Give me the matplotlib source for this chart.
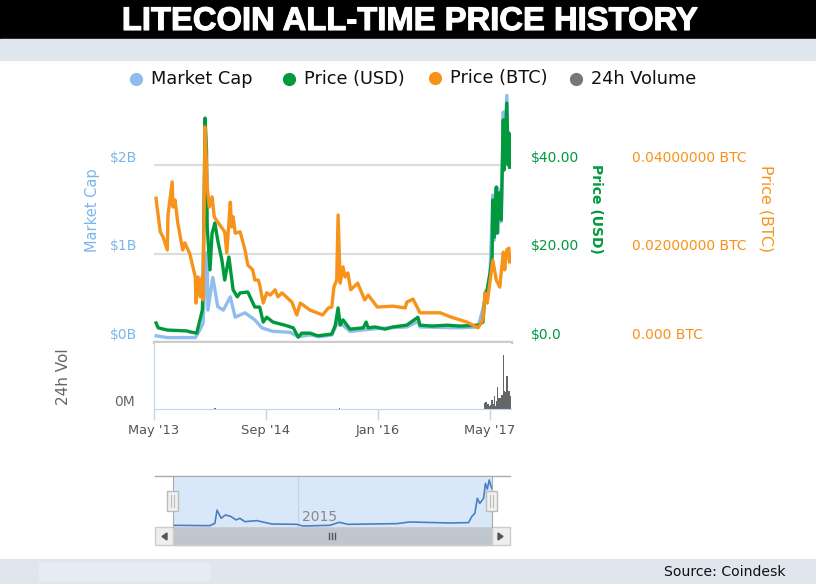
import matplotlib
matplotlib.use("Agg")
import matplotlib.pyplot as plt
import matplotlib.patheffects as pe
from matplotlib.patches import Rectangle, Polygon

W, H = 816, 584

# x values are months since May 2013
cap_months = [0.3, 1.9, 5.9, 6.3, 7.0, 7.3, 7.6, 7.7, 8.4, 8.7, 9.1, 9.9, 10.9, 11.6, 13.0, 14.4, 15.4, 17.0, 19.4,
              20.6, 22.3, 23.7, 25.4, 26.3, 27.0, 28.0, 31.6, 36.1, 37.7, 38.0, 43.7, 46.3, 47.3, 48.0, 48.4,
              48.6, 49.0, 49.1, 49.3, 49.6, 49.9, 50.0, 50.4, 50.6, 50.7, 50.8]
market_cap = [0.07, 0.05, 0.05, 0.10, 0.21, 0.73, 1.01, 0.36, 0.73, 0.59, 0.40, 0.36, 0.51, 0.28, 0.33, 0.25, 0.16, 0.12, 0.11,
              0.06, 0.08, 0.06, 0.08, 0.23, 0.19, 0.12, 0.15, 0.17, 0.23, 0.17, 0.16, 0.17, 0.47, 0.76, 1.66,
              1.15, 1.75, 1.23, 1.72, 1.36, 2.60, 1.94, 2.79, 2.00, 2.36, 1.98]

usd_months = [0.3, 0.6, 1.9, 4.7, 5.1, 6.1, 6.9, 7.0, 7.3, 7.5, 7.6, 8.0, 8.3, 8.7, 9.1, 9.7, 10.1, 10.7, 11.3, 11.9,
              12.3, 13.4, 14.4, 15.1, 15.6, 16.1, 17.0, 18.7, 19.9, 20.6, 21.1, 22.3, 23.4, 25.4, 25.9, 26.3, 26.6,
              27.0, 28.0, 29.9, 30.3, 30.6, 31.6, 33.0, 34.1, 36.1, 37.7, 38.0, 39.7, 41.9, 43.7, 46.3, 47.0, 47.3,
              47.6, 48.0, 48.3, 48.4, 48.6, 48.9, 49.0, 49.3, 49.6, 49.9, 50.0, 50.4, 50.6, 50.7, 50.8]
price_usd = [4.3, 3.2, 2.7, 2.5, 2.3, 2.0, 7.2, 11.1, 50.6, 43.4, 26.0, 16.3, 24.6, 26.9, 23.0, 18.5, 14.0, 19.2, 11.8, 10.2,
             11.1, 11.3, 7.9, 7.9, 4.5, 5.6, 4.5, 3.8, 3.2, 1.1, 2.0, 2.0, 1.4, 1.8, 3.8, 7.7, 3.8,
             5.0, 2.9, 3.2, 4.5, 3.2, 3.4, 2.9, 3.4, 3.8, 5.6, 3.8, 3.6, 3.8, 3.6, 3.8, 4.5, 11.1,
             11.8, 15.6, 19.2, 32.1, 23.7, 35.0, 24.6, 33.7, 27.6, 50.2, 38.9, 54.0, 40.0, 47.2, 39.5]

btc_months = [0.3, 0.4, 0.9, 1.3, 1.9, 2.0, 2.6, 2.7, 3.0, 3.4, 4.1, 4.4, 5.1, 5.9, 6.0, 6.3, 6.6, 6.9, 7.0, 7.3, 7.6, 7.9,
              8.3, 8.6, 9.1, 10.1, 10.4, 10.9, 11.1, 11.3, 11.6, 12.3, 13.0, 13.4, 14.1, 14.4, 14.9, 15.1, 15.6, 16.1,
              16.6, 17.3, 17.7, 18.3, 19.1, 19.7, 20.4, 20.9, 22.3, 24.1, 24.9, 25.4, 25.7, 26.1, 26.3, 26.6, 27.0,
              27.3, 27.7, 28.1, 29.1, 30.1, 30.6, 31.9, 34.1, 35.9, 36.1, 37.0, 38.0, 40.9, 42.3, 44.7, 46.3, 47.0,
              47.3, 47.6, 48.4, 48.9, 49.4, 49.9, 50.1, 50.4, 50.7, 50.8]
price_btc = [.0325, .031, .0249, .0237, .0208, .0287, .0362, .0305, .0321, .0269, .0208, .0224, .020, .0147, .0088, .0147,
             .0102, .0147, .0095, .0486, .035, .0305, .0328, .0283, .0271, .0249, .0201, .0316, .026, .0283, .0246, .0249,
             .0208, .0174, .0163, .014, .014, .0129, .0088, .0111, .0106, .0118, .0102, .0111, .0099, .009, .0061, .0088,
             .0072, .0061, .0077, .0079, .0124, .014, .0287, .0133, .017, .0147, .0156, .0118, .0133, .0095, .0106, .0079,
             .0081, .0077, .009, .0097, .0066, .0066, .0057, .0045, .0032, .005, .0111, .0088, .0185, .014, .0124, .0203,
             .0163, .0208, .0212, .0181]

vol_months = [8.7, 26.5, 47.3, 47.4, 47.6, 47.7, 47.9, 48.0, 48.1, 48.3, 48.4, 48.6, 48.7, 48.9, 49.0, 49.1, 49.3,
              49.4, 49.6, 49.7, 49.9, 50.0, 50.1, 50.3, 50.4, 50.6, 50.7, 50.9]
volume = [28, 28, 168, 196, 140, 140, 84, 84, 112, 252, 140, 364, 84, 140, 224, 616, 308,
          308, 336, 392, 1512, 504, 448, 476, 924, 504, 504, 364]

nav_months = [0, 5.9, 6.7, 7.05, 7.7, 8.4, 9.3, 10.1, 10.7, 11.5, 13.4, 15.8, 19.8, 20.8, 25.1, 26.6, 28, 32,
              35.8, 37.9, 44.3, 47.3, 47.8, 48.3, 48.7, 49.1, 49.7, 50, 50.3, 50.6, 51]
nav_cap = [.04, .02, .16, .95, .46, .66, .56, .36, .46, .26, .32, .12, .10, 0, .04, .22, .10, .12,
           .14, .24, .18, .20, .56, .75, 1.65, 1.35, 1.65, 2.54, 2.2, 2.74, 2.24]

date_ticks = [0, 16, 32, 48]
date_labels = ["May '13", "Sep '14", "Jan '16", "May '17"]

BLUE = "#8fbdee"
GREEN = "#009a3d"
ORANGE = "#f7931a"
GRAY = "#777777"


def box(left, top, right, bottom):
    # pixel box (from top left of the image) to figure fractions
    return [left / W, 1 - bottom / H, (right - left) / W, (bottom - top) / H]


fig = plt.figure(figsize=(W / 100, H / 100), dpi=100, facecolor="white")

# background bands and everything drawn in pixel coordinates
bg = fig.add_axes([0, 0, 1, 1], zorder=0)
bg.set_xlim(0, W)
bg.set_ylim(H, 0)
bg.axis("off")
bg.add_patch(Rectangle((0, 0), W, 39, color="black"))
bg.add_patch(Rectangle((0, 39), W, 21, color="#dfe6ee"))
bg.add_patch(Rectangle((0, 559), W, 25, color="#dfe6ee"))
bg.add_patch(Rectangle((39, 563), 170, 17, color="#e6ecf3"))
title = bg.text(410, 18, "LITECOIN ALL-TIME PRICE HISTORY", color="white", ha="center", va="center_baseline",
                fontsize=23.6, fontweight="bold", family="Liberation Sans")
title.set_path_effects([pe.withStroke(linewidth=0.8, foreground="white")])
bg.text(785, 572, "Source: Coindesk", color="#111111", ha="right", va="center", fontsize=10.1)

# legend
legend_items = [("Market Cap", BLUE, 136, 79), ("Price (USD)", GREEN, 289, 79),
                ("Price (BTC)", ORANGE, 435, 78), ("24h Volume", GRAY, 576, 79)]
for name, col, px, py in legend_items:
    bg.plot([px], [py], "o", color=col, ms=9.5, mew=0)
    bg.text(px + 15, py, name, color="#111111", va="center", fontsize=12.8)

# main panel
ax = fig.add_axes(box(154, 342 - 2.8 * 88.5, 511, 342), zorder=2)
ax.patch.set_alpha(0)
ax.set_xlim(0, 51)
ax.set_ylim(0, 2.8)
ax.set_xticks([])
ax.set_yticks([0, 1, 2])
ax.set_yticklabels(["$0B", "$1B", "$2B"], va="bottom", color="#7cb5ec", fontsize=10)
ax.tick_params(axis="y", length=0, pad=12)
for s in ax.spines.values():
    s.set_visible(False)
ax.grid(axis="y", color="#dddddd", lw=1.6)
ax.set_axisbelow(True)
ax.axhline(0, color="#cccccc", lw=2.4, zorder=1, clip_on=False)
ax.plot(cap_months, market_cap, color=BLUE, lw=2.4, solid_joinstyle="round", zorder=3)

ax_usd = ax.twinx()
ax_usd.set_ylim(0, 2.8 * 20)
ax_usd.set_yticks([0, 20, 40])
ax_usd.set_yticklabels(["$0.0", "$20.00", "$40.00"], va="bottom", color=GREEN, fontsize=10)
ax_usd.tick_params(axis="y", length=0, pad=14)
ax_usd.plot(usd_months, price_usd, color=GREEN, lw=2.4, solid_joinstyle="round", zorder=4)

ax_btc = ax.twinx()
ax_btc.set_ylim(0, 2.8 * 0.02)
ax_btc.set_yticks([0, 0.02, 0.04])
ax_btc.set_yticklabels(["0.000 BTC", "0.02000000 BTC", "0.04000000 BTC"], va="bottom", color=ORANGE, fontsize=10)
ax_btc.tick_params(axis="y", length=0, pad=87)
ax_btc.plot(btc_months, price_btc, color=ORANGE, lw=2.4, solid_joinstyle="round", zorder=5)
for a in (ax_usd, ax_btc):
    for s in a.spines.values():
        s.set_visible(False)

# axis titles
bg.text(92, 210, "Market Cap", color="#7cb5ec", rotation=90, ha="center", va="center", fontsize=10.5)
bg.text(596, 209, "Price (USD)", color=GREEN, rotation=270, ha="center", va="center", fontsize=10, fontweight="bold")
bg.text(766, 209, "Price (BTC)", color=ORANGE, rotation=270, ha="center", va="center", fontsize=11.4)
bg.text(64, 377, "24h Vol", color="#666666", rotation=90, ha="center", va="center", fontsize=11)

# volume panel
ax_vol = fig.add_axes(box(154, 343, 511, 409), zorder=2)
ax_vol.set_xlim(0, 51)
ax_vol.set_ylim(0, 1848)
ax_vol.bar(vol_months, volume, width=0.2, color="#666666", linewidth=0)
ax_vol.set_yticks([0])
ax_vol.set_yticklabels(["0M"], va="bottom", color="#666666", fontsize=10)
ax_vol.set_xticks(date_ticks)
ax_vol.set_xticklabels(date_labels, color="#555555", fontsize=9.4)
ax_vol.tick_params(axis="y", length=0, pad=14)
ax_vol.tick_params(axis="x", length=8, width=1, color="#c0d4ea", pad=3)
ax_vol.spines[["top", "right"]].set_visible(False)
ax_vol.spines[["left", "bottom"]].set_color("#c0d4ea")

# navigator
bg.plot([155, 510], [476, 476], color="#aaaaaa", lw=1)
bg.add_patch(Rectangle((155, 527), 355, 18, fc="#eeeeee", ec="#cccccc", lw=1))
ax_nav = fig.add_axes(box(173, 476, 491.7, 527), zorder=1)
ax_nav.set_xlim(0, 51)
ax_nav.set_ylim(-0.06, 2.98)
ax_nav.set_facecolor("#d8e8f8")
ax_nav.set_xticks([])
ax_nav.set_yticks([])
for s in ax_nav.spines.values():
    s.set_color("#aaaaaa")
ax_nav.spines["bottom"].set_visible(False)
ax_nav.axvline(20, color="#c4d4e4", lw=0.8)
ax_nav.plot(nav_months, nav_cap, color="#4a7fc4", lw=1.2)
bg.add_patch(Rectangle((173, 527), 319, 18, fc="#bfc6ce", ec="#cccccc", lw=1, zorder=3))
over = fig.add_axes([0, 0, 1, 1], zorder=5)
over.set_xlim(0, W)
over.set_ylim(H, 0)
over.axis("off")
over.text(320, 517, "2015", color="#888888", ha="center", va="center", fontsize=10)
for hx in (167, 486):
    over.add_patch(Rectangle((hx, 491), 10.5, 20, fc="#f0f0f0", ec="#bbbbbb", lw=1))
    for dx in (4, 6.5):
        over.plot([hx + dx, hx + dx], [495, 507], color="#bbbbbb", lw=0.8)
for dx in (329, 332, 335):
    over.plot([dx, dx], [533, 539], color="#555555", lw=1)
over.add_patch(Polygon([[167, 533], [167, 540], [162, 536.5]], color="#555555"))
over.add_patch(Polygon([[498, 533], [498, 540], [503, 536.5]], color="#555555"))

fig.savefig("out.png", dpi=100)
